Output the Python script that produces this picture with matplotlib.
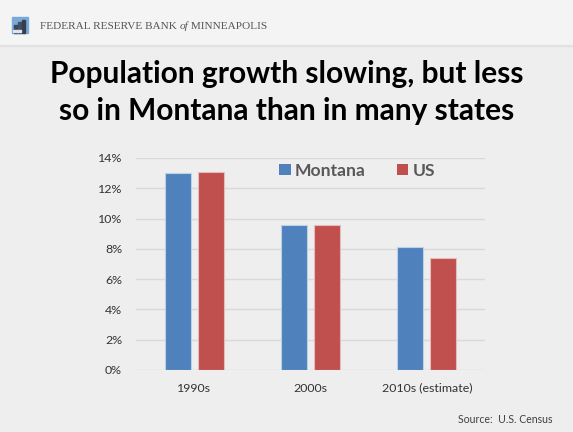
import matplotlib.pyplot as plt
import numpy as np
from matplotlib.patches import Rectangle

# decade population growth, percent
decades = ['1990s', '2000s', '2010s (estimate)']
montana = [13.0, 9.6, 8.1]
us = [13.1, 9.6, 7.4]
yticks = [0, 2, 4, 6, 8, 10, 12, 14]

W, H = 573, 432
fig = plt.figure(figsize=(W / 100, H / 100), dpi=100)
fig.patch.set_facecolor('#eeeeee')

# header strip with the bank name
bg = fig.add_axes([0, 0, 1, 1])
bg.set_xlim(0, W)
bg.set_ylim(H, 0)
bg.axis('off')
bg.add_patch(Rectangle((0, 0), W, 45, color='#f4f4f4', zorder=0))
bg.add_patch(Rectangle((0, 45), W, 1.2, color='#e2e2e2', zorder=0))
# little skyline logo
bg.add_patch(Rectangle((12, 17), 16, 16, color='#79a9da', zorder=1))
bg.add_patch(Rectangle((14, 25), 3, 8, color='#3a4656', zorder=2))
bg.add_patch(Rectangle((18, 22), 3, 11, color='#44505f', zorder=2))
bg.add_patch(Rectangle((22, 20), 3, 13, color='#34404f', zorder=2))
bg.add_patch(Rectangle((13, 30), 8, 2, color='#dfe4ea', zorder=3))

t1 = bg.text(40, 26.5, 'FEDERAL RESERVE BANK ', family='Liberation Serif',
             fontsize=8.1, color='#555555', va='center', ha='left')
t2 = bg.annotate('of', xy=(1, 0), xycoords=t1, va='bottom', ha='left',
                 family='Liberation Serif', style='italic', fontsize=8.1,
                 color='#555555')
bg.annotate(' MINNEAPOLIS', xy=(1, 0), xycoords=t2, va='bottom', ha='left',
            family='Liberation Serif', fontsize=8.1, color='#555555')

fig.text(0.5, 0.785, 'Population growth slowing, but less\nso in Montana than in many states',
         ha='center', va='center', family='Lato', weight='bold', fontsize=21.5,
         linespacing=1.4, color='black')

fig.text(0.965, 0.03, 'Source:  U.S. Census', ha='right', va='center',
         family='Lato', fontsize=7.6, color='#404040')

ax = fig.add_axes([136 / W, 62 / H, 349 / W, 212 / H])
ax.set_facecolor('none')
x = np.arange(len(decades))
bw = 0.223
off = 0.142
ax.bar(x - off, montana, bw, color='#4f81bd', edgecolor='#bcd0e8',
       linewidth=0.8, label='Montana', zorder=3)
ax.bar(x + off, us, bw, color='#c0504d', edgecolor='#e8bcbb',
       linewidth=0.8, label='US', zorder=3)

ax.set_xlim(-0.5, 2.5)
ax.set_ylim(0, 14)
ax.set_yticks(yticks)
ax.set_yticklabels([f'{v}%' for v in yticks])
ax.set_xticks(x)
ax.set_xticklabels(decades)
ax.tick_params(length=0, labelsize=8.9, labelcolor='#333333')
ax.tick_params(axis='y', pad=10)
ax.tick_params(axis='x', pad=9)
for lbl in ax.get_xticklabels() + ax.get_yticklabels():
    lbl.set_family('Lato')
ax.grid(axis='y', color='#d9d9d9', linewidth=1, zorder=0)
for s in ax.spines.values():
    s.set_visible(False)

leg = ax.legend(loc='center left', bbox_to_anchor=(0.365, 0.94), ncol=2,
                frameon=False, handlelength=0.66, handleheight=0.66,
                handletextpad=0.25, columnspacing=1.75,
                prop={'family': 'Lato', 'weight': 'bold', 'size': 12.6})
for t in leg.get_texts():
    t.set_color('#595959')
for h in leg.legend_handles:
    h.set_edgecolor('none')

fig.savefig('out.png', dpi=100, facecolor=fig.get_facecolor())
